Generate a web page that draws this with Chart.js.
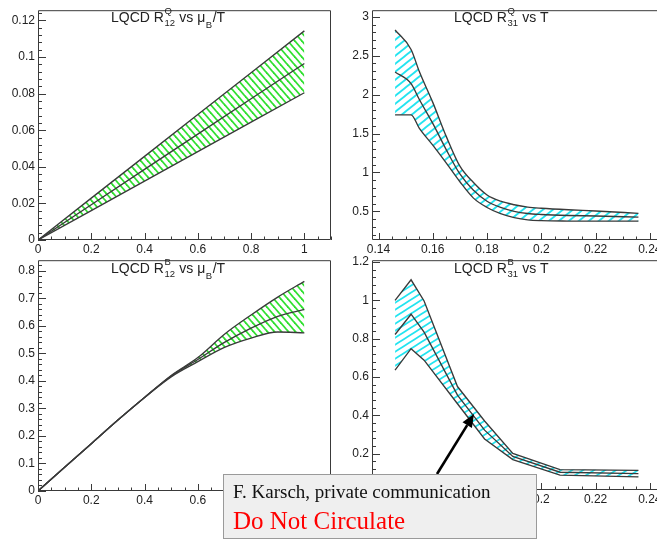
<!DOCTYPE html>
<html>
<head>
<meta charset="utf-8">
<title>LQCD ratios</title>
<script src="https://cdn.jsdelivr.net/npm/chart.js@4.4.1/dist/chart.umd.min.js"></script>
<style>
  html, body { margin: 0; padding: 0; background: #ffffff; }
  body { width: 657px; height: 541px; overflow: hidden; position: relative; }
  canvas { position: absolute; }
  #ov { position: absolute; left: 0; top: 0; }
</style>
</head>
<body>
<canvas id="cTL" width="335" height="262" style="left:0;top:0"></canvas>
<canvas id="cTR" width="340" height="262" style="left:335px;top:0"></canvas>
<canvas id="cBL" width="335" height="291" style="left:0;top:250px"></canvas>
<canvas id="cBR" width="340" height="291" style="left:335px;top:250px"></canvas>
<svg id="ov" width="657" height="541" xmlns="http://www.w3.org/2000/svg">
  <g id="titles"></g>
  <line x1="437" y1="474" x2="467.2" y2="425.1" stroke="#000" stroke-width="2.6"/>
  <polygon points="474,414 471.9,428.0 462.5,422.2" fill="#000"/>
  <rect x="223.5" y="474.5" width="313" height="64" fill="#efefef" stroke="#9a9a9a" stroke-width="1"/>
  <text x="233" y="497.5" font-family="Liberation Serif, Times New Roman, serif" font-size="19" fill="#111">F. Karsch, private communication</text>
  <text x="233" y="528.5" font-family="Liberation Serif, Times New Roman, serif" font-size="25" fill="#ff0000">Do Not Circulate</text>
</svg>
<script>
// ---- R12^Q versus muB/T (electric charge) ----
const muBT_Q = [0, 0.2, 0.4, 0.6, 0.8, 1.0];
const r12Q_high = [0, 0.0229, 0.0457, 0.0686, 0.0914, 0.1143];
const r12Q_mid  = [0, 0.0193, 0.0386, 0.0579, 0.0772, 0.0965];
const r12Q_low  = [0, 0.0161, 0.0322, 0.0483, 0.0644, 0.0805];

// ---- R12^B versus muB/T (baryon number) ----
const muBT_B = [0, 0.1, 0.2, 0.3, 0.4, 0.5, 0.6, 0.7, 0.8, 0.9, 1.0];
const r12B_high = [0, 0.086, 0.172, 0.258, 0.340, 0.420, 0.485, 0.570, 0.640, 0.705, 0.762];
const r12B_mid  = [0, 0.086, 0.172, 0.258, 0.340, 0.418, 0.478, 0.540, 0.592, 0.635, 0.660];
const r12B_low  = [0, 0.086, 0.172, 0.258, 0.340, 0.415, 0.470, 0.522, 0.556, 0.578, 0.575];

// ---- R31^Q versus T (GeV) ----
const temp_Q = [0.1461, 0.152, 0.155, 0.160, 0.165, 0.170, 0.175, 0.180, 0.185, 0.190, 0.195, 0.200, 0.210, 0.220, 0.2358];
const r31Q_high = [2.83, 2.58, 2.30, 1.90, 1.46, 1.08, 0.87, 0.71, 0.63, 0.585, 0.555, 0.540, 0.520, 0.505, 0.475];
const r31Q_mid  = [2.29, 2.14, 1.94, 1.63, 1.29, 0.98, 0.77, 0.63, 0.55, 0.500, 0.472, 0.460, 0.447, 0.440, 0.425];
const r31Q_low  = [1.74, 1.74, 1.57, 1.35, 1.12, 0.88, 0.67, 0.55, 0.47, 0.420, 0.390, 0.380, 0.375, 0.374, 0.374];

// ---- R31^B versus T (GeV) ----
const temp_B = [0.1461, 0.152, 0.1568, 0.1691, 0.1791, 0.1895, 0.2069, 0.2358];
const r31B_high = [1.000, 1.108, 0.997, 0.550, 0.370, 0.200, 0.116, 0.112];
const r31B_mid  = [0.822, 0.928, 0.834, 0.505, 0.322, 0.185, 0.102, 0.095];
const r31B_low  = [0.636, 0.748, 0.688, 0.460, 0.276, 0.168, 0.087, 0.078];

// ---- labelled axis ticks ----
const ticksMuBT = [0, 0.2, 0.4, 0.6, 0.8, 1];
const ticksTemp = [0.14, 0.16, 0.18, 0.2, 0.22, 0.24];
const ticksR12Q = [0, 0.02, 0.04, 0.06, 0.08, 0.1, 0.12];
const ticksR31Q = [0.5, 1, 1.5, 2, 2.5, 3];
const ticksR12B = [0, 0.1, 0.2, 0.3, 0.4, 0.5, 0.6, 0.7, 0.8];
const ticksR31B = [0.2, 0.4, 0.6, 0.8, 1, 1.2];

const SANS = '"Liberation Sans", Arial, Helvetica, sans-serif';
Chart.defaults.font.family = SANS;
Chart.defaults.font.size = 12;
Chart.defaults.color = '#222';

const LINE = '#3a3a3a';

// Frame with inward major/minor ticks
const rootFrame = {
  id: 'rootFrame',
  afterDatasetsDraw(chart, args, o) {
    const { ctx, chartArea: a } = chart;
    const xs = chart.scales.x, ys = chart.scales.y;
    ctx.save();
    ctx.strokeStyle = '#3a3a3a';
    ctx.lineWidth = 1;
    ctx.beginPath();
    ctx.rect(a.left + 0.5, a.top + 0.5, a.right - a.left - 1, a.bottom - a.top - 1);
    ctx.stroke();
    const isMajor = (v, majors, step) => majors.some(m => Math.abs(m - v) < step * 1e-3);
    ctx.beginPath();
    const xStep = o.xMinor;
    for (let k = Math.ceil(xs.min / xStep - 1e-9); k * xStep <= xs.max + 1e-12; k++) {
      const v = k * xStep;
      const px = Math.round(xs.getPixelForValue(v)) + 0.5;
      const len = isMajor(v, o.xMajor, xStep) ? 7 : 3.5;
      ctx.moveTo(px, a.bottom);
      ctx.lineTo(px, a.bottom - len);
    }
    const yStep = o.yMinor;
    for (let k = Math.ceil(ys.min / yStep - 1e-9); k * yStep <= ys.max + 1e-12; k++) {
      const v = k * yStep;
      const py = Math.round(ys.getPixelForValue(v)) + 0.5;
      const len = isMajor(v, o.yMajor, yStep) ? 8 : 4;
      ctx.moveTo(a.left, py);
      ctx.lineTo(a.left + len, py);
    }
    ctx.stroke();
    ctx.restore();
  }
};

// Hatched fill tile: parallel lines, rising ("/") or falling ("\")
function hatchTile(color, w, h, rising) {
  const c = document.createElement('canvas');
  c.width = w; c.height = h;
  const g = c.getContext('2d');
  g.strokeStyle = color;
  g.lineWidth = 1.8;
  for (let k = -1; k <= 1; k++) {
    g.beginPath();
    if (rising) { g.moveTo(-1, h + k * h + h / w); g.lineTo(w + 1, k * h - h / w); }
    else { g.moveTo(-1, k * h - h / w); g.lineTo(w + 1, h + k * h + h / w); }
    g.stroke();
  }
  return c;
}

const fmt = v => String(Math.round(v * 1000) / 1000);
const pts = (xs, ys) => xs.map((x, i) => ({ x, y: ys[i] }));

function panel(id, p) {
  const tile = hatchTile(p.hatch.color, p.hatch.w, p.hatch.h, p.hatch.rising);
  let pattern = null;
  const curve = p.smooth ? { cubicInterpolationMode: 'monotone' } : { tension: 0 };
  const line = (ys) => Object.assign({
    data: pts(p.x, ys), borderColor: LINE, borderWidth: 1.35,
    pointRadius: 0, pointHoverRadius: 0, fill: false
  }, curve);
  return new Chart(document.getElementById(id), {
    type: 'line',
    data: {
      datasets: [
        line(p.hi),
        Object.assign(line(p.lo), {
          fill: '-1',
          backgroundColor: (c) => {
            if (!pattern) pattern = c.chart.ctx.createPattern(tile, 'repeat');
            return pattern;
          }
        }),
        line(p.mid)
      ]
    },
    options: {
      responsive: false,
      animation: false,
      devicePixelRatio: 1,
      events: [],
      layout: { autoPadding: false, padding: { top: p.padTop, right: p.padRight, left: 0, bottom: 0 } },
      plugins: {
        legend: { display: false },
        tooltip: { enabled: false },
        filler: { drawTime: 'beforeDatasetsDraw' },
        rootFrame: { xMinor: p.xMinor, yMinor: p.yMinor, xMajor: p.xTicks, yMajor: p.yTicks }
      },
      scales: {
        x: {
          type: 'linear', min: p.xMin, max: p.xMax,
          grid: { display: false, drawTicks: false },
          border: { display: false },
          ticks: { padding: 2, autoSkip: false, maxRotation: 0, callback: fmt },
          afterBuildTicks: s => { s.ticks = p.xTicks.map(v => ({ value: v })); },
          afterFit: s => { s.height = p.xAxisH; }
        },
        y: {
          type: 'linear', min: p.yMin, max: p.yMax,
          grid: { display: false, drawTicks: false },
          border: { display: false },
          ticks: { padding: 3, autoSkip: false, callback: fmt },
          afterBuildTicks: s => { s.ticks = p.yTicks.map(v => ({ value: v })); },
          afterFit: s => { s.width = p.yAxisW; }
        }
      }
    },
    plugins: [rootFrame]
  });
}

const green = { color: '#30e030', w: 7, h: 8, rising: false };

panel('cTL', {
  x: muBT_Q, hi: r12Q_high, mid: r12Q_mid, lo: r12Q_low, smooth: false,
  xMin: 0, xMax: 1.1, yMin: 0, yMax: 0.1256,
  xTicks: ticksMuBT, yTicks: ticksR12Q, xMinor: 0.05, yMinor: 0.004,
  padTop: 5, padRight: 4, yAxisW: 38, xAxisH: 22, hatch: green
});

panel('cTR', {
  x: temp_Q, hi: r31Q_high, mid: r31Q_mid, lo: r31Q_low, smooth: true,
  xMin: 0.1376, xMax: 0.2467, yMin: 0.132, yMax: 3.084,
  xTicks: ticksTemp, yTicks: ticksR31Q, xMinor: 0.005, yMinor: 0.1,
  padTop: 5, padRight: 7, yAxisW: 37, xAxisH: 22,
  hatch: { color: '#22e4f0', w: 10, h: 8, rising: true }
});

panel('cBL', {
  x: muBT_B, hi: r12B_high, mid: r12B_mid, lo: r12B_low, smooth: true,
  xMin: 0, xMax: 1.1, yMin: 0, yMax: 0.839,
  xTicks: ticksMuBT, yTicks: ticksR12B, xMinor: 0.05, yMinor: 0.02,
  padTop: 6, padRight: 4, yAxisW: 38, xAxisH: 50, hatch: green
});

panel('cBR', {
  x: temp_B, hi: r31B_high, mid: r31B_mid, lo: r31B_low, smooth: false,
  xMin: 0.1376, xMax: 0.2467, yMin: 0.0093, yMax: 1.2103,
  xTicks: ticksTemp, yTicks: ticksR31B, xMinor: 0.005, yMinor: 0.04,
  padTop: 7, padRight: 7, yAxisW: 37, xAxisH: 51,
  hatch: { color: '#22e4f0', w: 11, h: 7, rising: true }
});

// Panel titles with stacked super/subscripts
const NS = 'http://www.w3.org/2000/svg';
const titleGroup = document.getElementById('titles');
const meas = document.createElement('canvas').getContext('2d');
function put(str, x, y, size) {
  const t = document.createElementNS(NS, 'text');
  t.setAttribute('x', x.toFixed(2));
  t.setAttribute('y', y.toFixed(2));
  t.setAttribute('font-family', SANS.replace(/"/g, "'"));
  t.setAttribute('font-size', size);
  t.setAttribute('fill', '#222');
  t.textContent = str;
  titleGroup.appendChild(t);
  meas.font = size + 'px ' + SANS;
  return meas.measureText(str).width;
}
function title(x, y, parts) {
  let cx = x;
  for (const p of parts) {
    if (typeof p === 'string') {
      cx += put(p, cx, y, 14);
    } else {
      let w = 0;
      if (p.sup) w = Math.max(w, put(p.sup, cx + 0.5, y - 8, 9.5));
      if (p.sub) w = Math.max(w, put(p.sub, cx + 0.5, y + (p.low || 4.5), 9.5));
      cx += w + 1;
    }
  }
}
const SP = '\u00a0';
title(111, 21.7, ['LQCD R', { sup: 'Q', sub: '12' }, SP + 'vs μ', { sub: 'B', low: 6 }, '/T']);
title(454, 21.7, ['LQCD R', { sup: 'Q', sub: '31' }, SP + 'vs T']);
title(111, 272.7, ['LQCD R', { sup: 'B', sub: '12' }, SP + 'vs μ', { sub: 'B', low: 6 }, '/T']);
title(454, 272.7, ['LQCD R', { sup: 'B', sub: '31' }, SP + 'vs T']);
</script>
</body>
</html>
